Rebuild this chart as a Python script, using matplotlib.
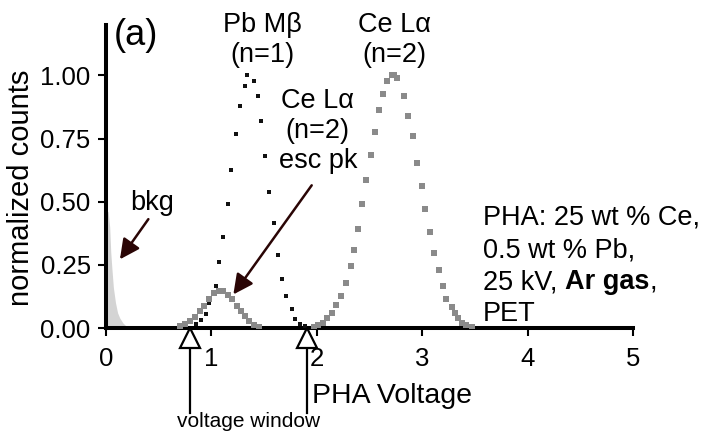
import numpy as np
import matplotlib
matplotlib.use("Agg")
import matplotlib.pyplot as plt

plt.rcParams['font.family'] = ['Liberation Sans', 'DejaVu Sans']

# background (bkg) near 0 V
bkg_x = [0.0, 0.02, 0.035, 0.045, 0.055, 0.07, 0.09, 0.11, 0.13, 0.16, 0.19, 0.22]
bkg_y = [0.47, 0.46, 0.40, 0.30, 0.24, 0.16, 0.10, 0.06, 0.04, 0.02, 0.008, 0.0]

# Pb Mbeta (n=1), black squares
pb_x = [0.85, 0.90, 0.95, 0.98, 1.04, 1.07, 1.11, 1.16, 1.19, 1.23, 1.27, 1.32, 1.34,
        1.40, 1.44, 1.47, 1.51, 1.55, 1.59, 1.63, 1.67, 1.71, 1.76, 1.79, 1.84, 1.89]
pb_y = [0.015, 0.032, 0.055, 0.10, 0.166, 0.262, 0.362, 0.493, 0.627, 0.767, 0.88, 0.96, 1.00,
        0.98, 0.917, 0.82, 0.68, 0.54, 0.417, 0.289, 0.196, 0.126, 0.074, 0.034, 0.016, 0.008]

# Ce Lalpha (n=2) escape peak, grey squares
esc_x = [0.70, 0.75, 0.80, 0.84, 0.89, 0.93, 0.98, 1.02, 1.07, 1.11, 1.16, 1.20,
         1.24, 1.28, 1.32, 1.36, 1.40, 1.45]
esc_y = [0.008, 0.016, 0.029, 0.045, 0.067, 0.087, 0.115, 0.137, 0.148, 0.145, 0.130, 0.113,
         0.087, 0.066, 0.046, 0.029, 0.012, 0.005]

# Ce Lalpha (n=2) main peak, grey squares
ce_x = [1.97, 2.01, 2.06, 2.10, 2.14, 2.18, 2.23, 2.28, 2.32, 2.35, 2.39, 2.43, 2.47, 2.51,
        2.55, 2.59, 2.63, 2.67, 2.71, 2.73, 2.76, 2.83, 2.87, 2.91, 2.95, 3.00, 3.03, 3.07,
        3.11, 3.16, 3.20, 3.23, 3.28, 3.31, 3.34, 3.38, 3.42, 3.47]
ce_y = [0.005, 0.012, 0.021, 0.039, 0.061, 0.091, 0.125, 0.18, 0.244, 0.31, 0.394, 0.49, 0.585, 0.684,
        0.776, 0.862, 0.925, 0.98, 1.0, 1.0, 0.99, 0.918, 0.839, 0.759, 0.655, 0.563, 0.47, 0.379,
        0.296, 0.229, 0.166, 0.116, 0.082, 0.058, 0.039, 0.021, 0.012, 0.005]

window = [0.797, 1.904]

xticks = [0, 1, 2, 3, 4, 5]
yticks = [0.0, 0.25, 0.5, 0.75, 1.0]
ytick_labels = ["0.00", "0.25", "0.50", "0.75", "1.00"]

fig = plt.figure(figsize=(7.03, 4.36), dpi=100)
ax = fig.add_axes([0.1508, 0.2477, 0.7496, 0.695])

ax.fill_between(bkg_x, bkg_y, 0, color='#d4d4d4', lw=0, zorder=1)
ax.plot(pb_x, pb_y, 's', color='#111111', ms=3.0, mew=0, zorder=3)
ax.plot(esc_x, esc_y, 's', color='#8a8a8a', ms=3.7, mew=0, zorder=3)
ax.plot(ce_x, ce_y, 's', color='#8a8a8a', ms=3.7, mew=0, zorder=3)

ax.set_xlim(0, 5)
ax.set_ylim(0, 1.2)
ax.set_xticks(xticks)
ax.set_yticks(yticks)
ax.set_yticklabels(ytick_labels)
for s in ['top', 'right']:
    ax.spines[s].set_visible(False)
for s in ['left', 'bottom']:
    ax.spines[s].set_linewidth(2.9)
ax.tick_params(direction='out', length=6, width=1.5, labelsize=18.5)
ax.tick_params(axis='x', pad=8)
ax.tick_params(axis='y', pad=5)

# voltage window markers
for v in window:
    ax.plot([v], [-0.038], marker='^', ms=14, mfc='white', mec='black', mew=1.6,
            clip_on=False, zorder=5)
    ax.plot([v, v], [-0.068, -0.335], color='black', lw=1.6, clip_on=False)
ax.text(sum(window) / 2, -0.372, "voltage window", fontsize=15, ha='center', va='center')

ax.text(1.955, -0.269, "PHA Voltage", fontsize=20.5, ha='left', va='center')
fig.text(21 / 703, 1 - 188 / 436, "normalized counts", fontsize=21, rotation=90,
         ha='center', va='center')

fs = 19.5
ax.text(0.07, 1.158, "(a)", fontsize=26, ha='left', va='center')
ax.text(1.48, 1.14, "Pb M\u03b2\n(n=1)", fontsize=fs, ha='center', va='center', linespacing=1.2)
ax.text(2.74, 1.14, "Ce L\u03b1\n(n=2)", fontsize=fs, ha='center', va='center', linespacing=1.2)
ax.text(2.01, 0.78, "Ce L\u03b1\n(n=2)\nesc pk", fontsize=fs, ha='center', va='center', linespacing=1.2)
ax.text(0.44, 0.494, "bkg", fontsize=fs, ha='center', va='center')

# PHA condition block
x0 = 3.577
ax.text(x0, 0.411, "PHA: 25 wt % Ce,", fontsize=fs, ha='left', va='baseline')
ax.text(x0, 0.281, "0.5 wt % Pb,", fontsize=fs, ha='left', va='baseline')
t1 = ax.text(x0, 0.154, "25 kV, ", fontsize=fs, ha='left', va='baseline')
t2 = ax.annotate("Ar gas", xy=(1, 0), xycoords=t1, fontsize=fs, weight='bold',
                 ha='left', va='bottom')
ax.annotate(",", xy=(1, 0), xycoords=t2, fontsize=fs, ha='left', va='bottom')
ax.text(x0, 0.028, "PET", fontsize=fs, ha='left', va='baseline')

arrow_col = '#2a0505'
ax.annotate('', xy=(0.117, 0.263), xytext=(0.417, 0.44),
            arrowprops=dict(arrowstyle='-|>', color=arrow_col, lw=1.8, mutation_scale=30))
ax.annotate('', xy=(1.193, 0.124), xytext=(1.967, 0.574),
            arrowprops=dict(arrowstyle='-|>', color=arrow_col, lw=1.8, mutation_scale=30))

fig.savefig("out.png", dpi=100)
